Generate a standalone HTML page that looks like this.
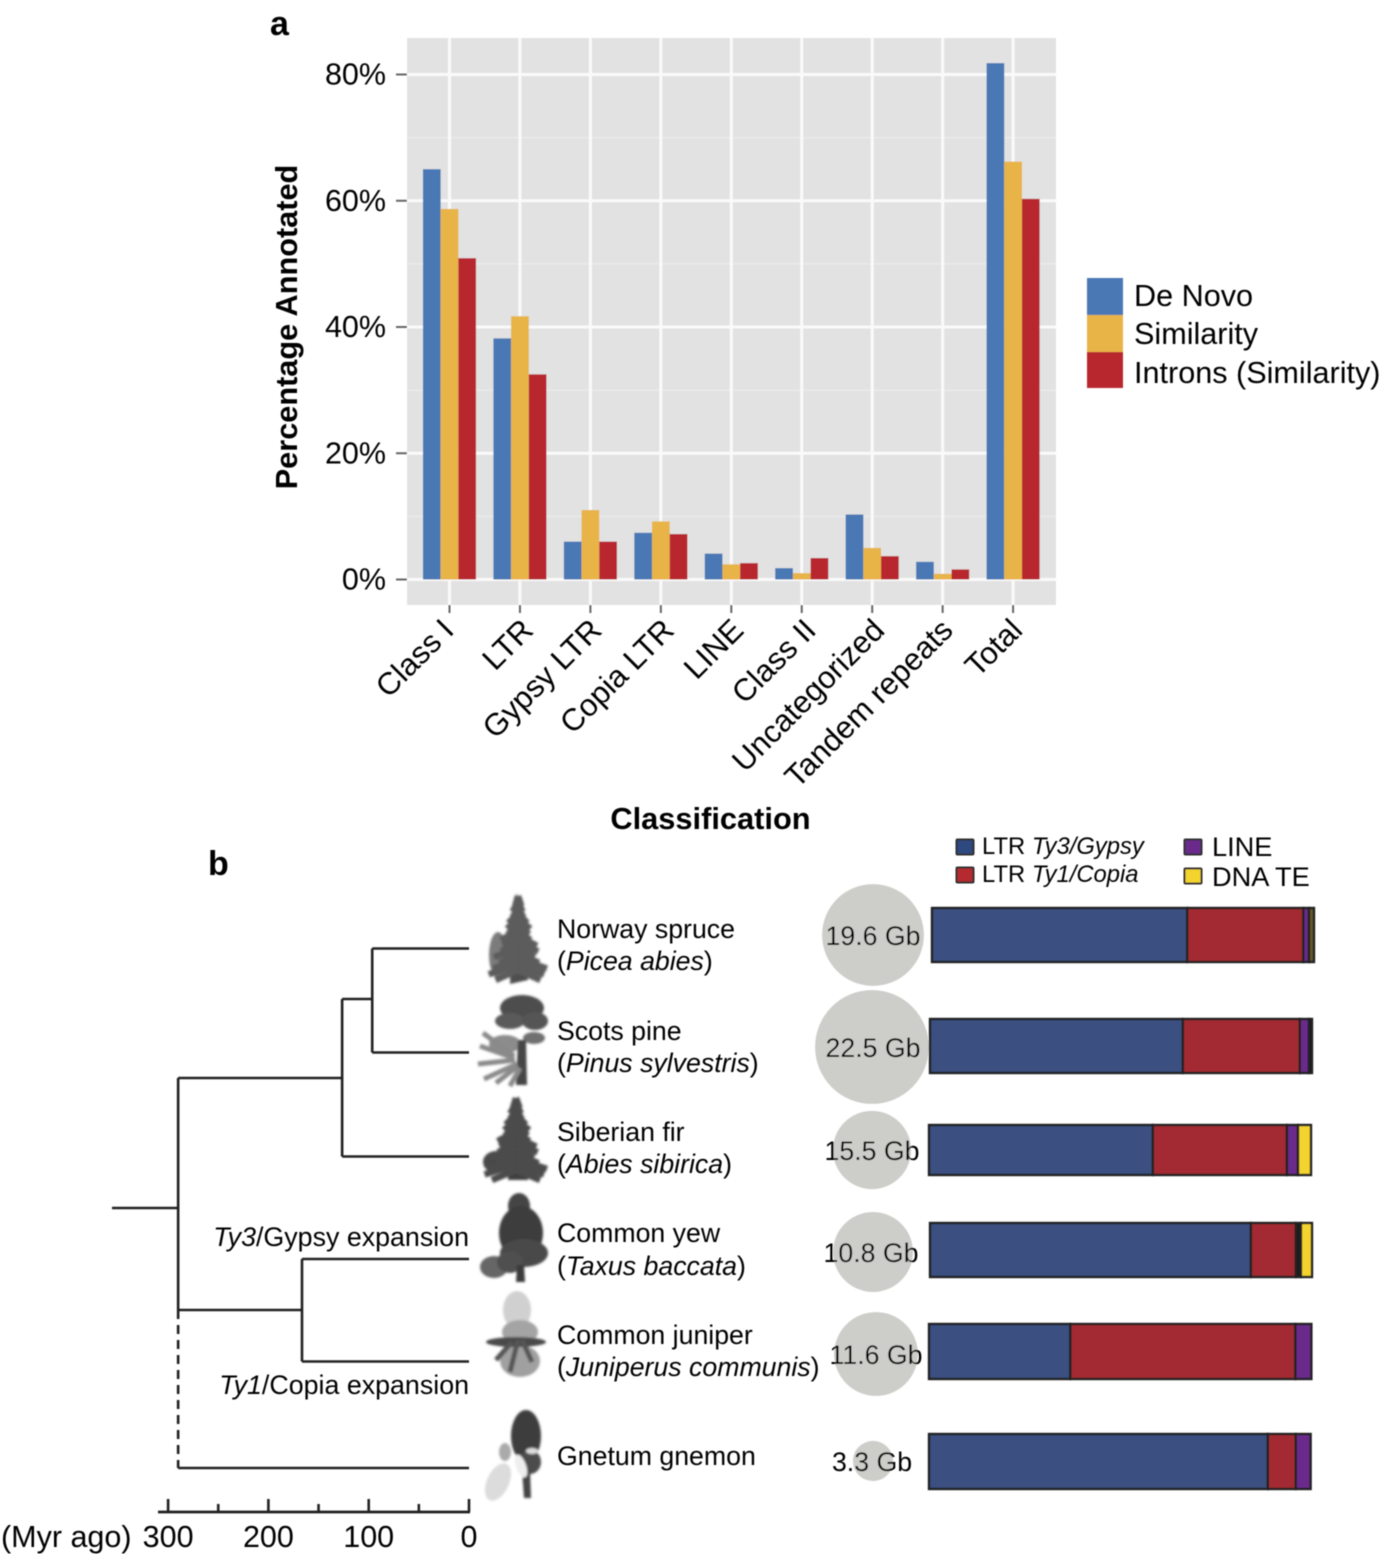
<!DOCTYPE html>
<html lang="en">
<head>
<meta charset="utf-8">
<title>Annotated repeats in conifer genomes</title>
<style>
html,body{margin:0;padding:0;background:#fff;width:1384px;height:1554px;overflow:hidden}
svg{display:block;font-family:"Liberation Sans",Arial,sans-serif;fill:#000}
</style>
</head>
<body>
<svg id="fig" width="1384" height="1554" viewBox="0 0 1384 1554" xmlns="http://www.w3.org/2000/svg">
<defs>
<filter id="soft" x="-5%" y="-5%" width="110%" height="110%"><feGaussianBlur stdDeviation="0.45"/></filter>
<filter id="treeblur" x="-20%" y="-20%" width="140%" height="140%"><feGaussianBlur stdDeviation="1.1"/></filter>
</defs>
<g id="root" filter="url(#soft)">
<text x="270" y="35" font-size="34" font-weight="bold">a</text>
<text x="208" y="875" font-size="34" font-weight="bold">b</text>

<rect x="407" y="38" width="649" height="567" fill="#e2e2e2"/>
<g id="gridA"></g>
<g id="barsA"></g>
<g id="axisA"></g>
<text transform="translate(297,327) rotate(-90)" text-anchor="middle" font-size="30.7" font-weight="bold">Percentage Annotated</text>
<text x="710.5" y="829" text-anchor="middle" font-size="30.8" font-weight="bold">Classification</text>

<g>
<rect x="1087" y="278" width="36" height="38" fill="#4a78b5"/>
<rect x="1087" y="315" width="36" height="38" fill="#e8b347"/>
<rect x="1087" y="352" width="36" height="36" fill="#b8272f"/>
<text x="1134" y="306" font-size="30.6">De Novo</text>
<text x="1134" y="344" font-size="30.6">Similarity</text>
<text x="1134" y="383" font-size="30.6">Introns (Similarity)</text>
</g>

<g id="phylo" fill="none" stroke="#222" stroke-width="2.6"></g>
<g id="timeAxis"></g>
<text x="1" y="1547" font-size="30.5">(Myr ago)</text>
<text x="469" y="1246" text-anchor="end" font-size="26.8"><tspan font-style="italic">Ty3</tspan>/Gypsy expansion</text>
<text x="469" y="1394" text-anchor="end" font-size="26.8"><tspan font-style="italic">Ty1</tspan>/Copia expansion</text>

<g>
<g id="tree1" filter="url(#treeblur)">
<ellipse cx="498" cy="955" rx="9" ry="23" fill="#7c7c7c"/>
<path d="M517,893 L524,930 L528,980 L510,984 L511,930 Z" fill="#505050"/>
</g>
<g filter="url(#treeblur)">
<ellipse cx="522" cy="1008" rx="22" ry="13" fill="#4e4e4e"/>
<ellipse cx="510" cy="1021" rx="15" ry="8" fill="#5a5a5a"/>
<ellipse cx="535" cy="1021" rx="13" ry="9" fill="#555"/>
<ellipse cx="534" cy="1038" rx="11" ry="6" fill="#707070"/>
<ellipse cx="505" cy="1044" rx="16" ry="9" fill="#8c8c8c"/>
<path d="M518,1040 L526,1040 L527,1085 L516,1085 Z" fill="#444"/>
<path d="M514,1056 L483,1033 M514,1058 L480,1046 M515,1060 L478,1064 M517,1064 L484,1079 M518,1066 L496,1083 M520,1068 L510,1086" stroke="#8a8a8a" stroke-width="5" fill="none"/>
</g>
<g id="tree3" filter="url(#treeblur)">
<ellipse cx="496" cy="1162" rx="13" ry="11" fill="#4a4a4a"/>
<path d="M518,1096 L527,1140 L528,1180 L508,1180 L510,1140 Z" fill="#404040"/>
</g>
<g filter="url(#treeblur)">
<ellipse cx="519" cy="1206" rx="11" ry="13" fill="#444"/>
<ellipse cx="521" cy="1233" rx="22" ry="27" fill="#3e3e3e"/>
<ellipse cx="524" cy="1253" rx="24" ry="14" fill="#484848"/>
<ellipse cx="494" cy="1267" rx="14" ry="11" fill="#666"/>
<ellipse cx="510" cy="1262" rx="13" ry="11" fill="#505050"/>
<path d="M517,1265 L524,1265 L525,1282 L516,1282 Z" fill="#3a3a3a"/>
</g>
<g filter="url(#treeblur)">
<ellipse cx="517" cy="1310" rx="14" ry="19" fill="#d0d0d0"/>
<ellipse cx="520" cy="1332" rx="18" ry="12" fill="#a4a4a4"/>
<ellipse cx="520" cy="1361" rx="20" ry="16" fill="#a0a0a0"/>
<ellipse cx="516" cy="1342" rx="30" ry="5" fill="#484848"/>
<path d="M518,1340 L510,1372 M512,1342 L496,1360 M522,1340 L532,1362" stroke="#555" stroke-width="5" fill="none"/>
</g>
<g filter="url(#treeblur)">
<ellipse cx="526" cy="1436" rx="15" ry="26" fill="#3e3e3e"/>
<ellipse cx="530" cy="1462" rx="11" ry="12" fill="#4c4c4c"/>
<path d="M522,1470 L530,1470 L531,1498 L524,1498 Z" fill="#444"/>
<ellipse cx="498" cy="1482" rx="11" ry="20" transform="rotate(25 498 1482)" fill="#dcdcdc"/>
<ellipse cx="505" cy="1452" rx="6" ry="9" fill="#aaa"/>
<ellipse cx="521" cy="1466" rx="5" ry="12" transform="rotate(-20 521 1466)" fill="#eee"/>
<ellipse cx="532" cy="1451" rx="6" ry="3" fill="#ddd"/>
</g>
</g>

<g font-size="26.7">
<text x="557" y="938">Norway spruce</text>
<text x="557" y="970">(<tspan font-style="italic">Picea abies</tspan>)</text>
<text x="557" y="1040">Scots pine</text>
<text x="557" y="1072">(<tspan font-style="italic">Pinus sylvestris</tspan>)</text>
<text x="557" y="1141">Siberian fir</text>
<text x="557" y="1173">(<tspan font-style="italic">Abies sibirica</tspan>)</text>
<text x="557" y="1242">Common yew</text>
<text x="557" y="1275">(<tspan font-style="italic">Taxus baccata</tspan>)</text>
<text x="557" y="1344">Common juniper</text>
<text x="557" y="1376">(<tspan font-style="italic">Juniperus communis</tspan>)</text>
<text x="557" y="1465">Gnetum gnemon</text>
</g>

<g id="genome"></g>
<g id="stacks"></g>

<g>
<rect x="956.5" y="839.5" width="17" height="15" rx="1" fill="#2f4a80" stroke="#333" stroke-width="2"/>
<rect x="956.5" y="867.5" width="17" height="15" rx="1" fill="#b5292e" stroke="#333" stroke-width="2"/>
<rect x="1184.5" y="839.5" width="17" height="15" rx="1" fill="#6a2a8c" stroke="#333" stroke-width="2"/>
<rect x="1184.5" y="868.5" width="17" height="15" rx="1" fill="#f3d32f" stroke="#333" stroke-width="2"/>
<text x="982" y="854" font-size="23.8">LTR <tspan font-style="italic">Ty3/Gypsy</tspan></text>
<text x="982" y="882" font-size="23.8">LTR <tspan font-style="italic">Ty1/Copia</tspan></text>
<text x="1212" y="856" font-size="27.2">LINE</text>
<text x="1212" y="886" font-size="27.2">DNA TE</text>
</g>
</g>
</svg>

<script>
// Panel a data
var categories = ["Class I","LTR","Gypsy LTR","Copia LTR","LINE","Class II","Uncategorized","Tandem repeats","Total"];
var deNovo = [65, 38.2, 6, 7.4, 4.1, 1.8, 10.3, 2.8, 81.8];
var similarity = [58.7, 41.7, 11, 9.2, 2.4, 1, 5, 0.9, 66.2];
var introns = [50.9, 32.5, 6, 7.2, 2.6, 3.4, 3.7, 1.6, 60.3];
var yTickValues = [0, 20, 40, 60, 80];
var yMinorValues = [10, 30, 50, 70];

// Panel b data
var speciesNames = ["Norway spruce","Scots pine","Siberian fir","Common yew","Common juniper","Gnetum gnemon"];
var genomeSizeLabels = ["19.6 Gb","22.5 Gb","15.5 Gb","10.8 Gb","11.6 Gb","3.3 Gb"];
var circleGb = [18, 22.5, 10.6, 11.1, 12.2, 2.8];
var gypsyShare = [66.8, 66.2, 58.6, 84, 37, 88.7];
var copiaShare = [30.4, 30.6, 35.1, 11.8, 58.9, 7.3];
var lineShare = [1.5, 2.4, 2.9, 1.3, 4.2, 3.9];
var dnaShare = [1.3, 0.8, 3.4, 2.9, 0, 0];
var timeTickValues = [300, 200, 100, 0];
var timeMinorValues = [250, 150, 50];
var splitAges = {root: 290, pinaceae: 126.5, spruceFir: 96.5, yewJuniper: 166.5};
var tipAge = 0;

var NS = "http://www.w3.org/2000/svg";
function mk(tag, attrs, parent, text) {
  var el = document.createElementNS(NS, tag);
  for (var k in attrs) el.setAttribute(k, attrs[k]);
  if (text !== undefined) el.textContent = text;
  parent.appendChild(el);
  return el;
}
function slug(s) { return s.toLowerCase().replace(/[^a-z0-9]+/g, "-"); }

// Panel a axes
var plotLeft = 407, plotRight = 1056, plotTop = 38, plotBottom = 605;
function yScale(v) { return 579.5 - v * 6.3125; }
function xScale(i) { return 449.5 + i * 70.45; }
var barW = 17.7;
var xLabelNudge = [-2, 7, 5, 7, 6, 8, 6, 4, 3];

var gridA = document.getElementById("gridA");
var barsA = document.getElementById("barsA");
var axisA = document.getElementById("axisA");

yMinorValues.forEach(function (v) {
  var l = mk("line", {x1: plotLeft, x2: plotRight, y1: yScale(v), y2: yScale(v), stroke: "#ececec", "stroke-width": 1.2}, gridA);
  
  
});
yTickValues.forEach(function (v) {
  var y = yScale(v);
  var g = mk("line", {x1: plotLeft, x2: plotRight, y1: y, y2: y, stroke: "#fafafa", "stroke-width": 3}, gridA);
  
  
  var t = mk("line", {x1: 396, x2: 407, y1: y, y2: y, stroke: "#666", "stroke-width": 2}, axisA);
  
  
  var lab = mk("text", {x: 386, y: y + 10, "text-anchor": "end", "font-size": 30.5}, axisA, v + "%");
  
  
});
categories.forEach(function (c, i) {
  var x = xScale(i);
  var g = mk("line", {x1: x, x2: x, y1: plotTop, y2: plotBottom, stroke: "#fafafa", "stroke-width": 3}, gridA);
  
  
  var t = mk("line", {x1: x, x2: x, y1: plotBottom, y2: plotBottom + 8, stroke: "#666", "stroke-width": 2}, axisA);
  
  
  var lab = mk("text", {transform: "translate(" + (x + 8 + xLabelNudge[i]) + ",632) rotate(-45)", "text-anchor": "end", "font-size": 31}, axisA, c);
  
  
});
function drawSeries(values, offset, color, name) {
  values.forEach(function (v, i) {
    var y = yScale(v);
    var r = mk("rect", {x: xScale(i) + offset * barW - barW / 2, y: y, width: barW, height: yScale(0) - y, fill: color}, barsA);
    
    
  });
}
drawSeries(deNovo, -1, "#4a78b5", "bar-de-novo");
drawSeries(similarity, 0, "#e8b347", "bar-similarity");
drawSeries(introns, 1, "#b8272f", "bar-introns");

// Conifer foliage drawn as drooping branch tiers (decoration only)
function tiers(groupId, cx, top, bottom, half, colour) {
  var g = document.getElementById(groupId);
  var n = 13;
  for (var k = 0; k <= n; k++) {
    var t = k / n;
    var y = top + t * (bottom - top);
    var wl = half * (0.1 + 0.9 * t) * (1 + 0.2 * Math.sin(k * 2.3));
    var wr = half * (0.1 + 0.9 * t) * (1 + 0.2 * Math.cos(k * 1.7));
    var p = mk("path", {d: "M" + cx + "," + (y - 6) + " L" + (cx - wl) + "," + (y + 4) + " M" + cx + "," + (y - 6) + " L" + (cx + wr) + "," + (y + 4), stroke: colour, "stroke-width": 6.5, fill: "none"}, g);
    
    
  }
}
tiers("tree1", 518, 902, 976, 28, "#5c5c5c");
tiers("tree3", 516, 1104, 1176, 30, "#4b4b4b");

// Panel b: time axis and phylogeny
function timeX(age) { return 469 - age * 1.003; }
var tipY = [948.5, 1052.5, 1156.5, 1259, 1361.5, 1468];
var phylo = document.getElementById("phylo");
function branch(x1, y1, x2, y2, dashed, name) {
  var a = {x1: x1, y1: y1, x2: x2, y2: y2};
  if (dashed) a["stroke-dasharray"] = "9 6";
  var l = mk("line", a, phylo);
  
  
}
var xRoot = timeX(splitAges.root), xPin = timeX(splitAges.pinaceae), xSpruce = timeX(splitAges.spruceFir), xYew = timeX(splitAges.yewJuniper), xTip = timeX(tipAge);
branch(112, 1208, xRoot, 1208, false, "root-branch");
branch(xRoot, 1078, xRoot, 1310, false, "root-split");
branch(xRoot, 1310, xRoot, tipY[5], true, "gnetum-dashed-split");
branch(xRoot, 1078, xPin, 1078, false, "pinaceae-stem");
branch(xPin, 999, xPin, tipY[2], false, "pinaceae-split");
branch(xPin, 999, xSpruce, 999, false, "spruce-pine-stem");
branch(xSpruce, tipY[0], xSpruce, tipY[1], false, "spruce-pine-split");
branch(xSpruce, tipY[0], xTip, tipY[0], false, "norway-spruce-branch");
branch(xSpruce, tipY[1], xTip, tipY[1], false, "scots-pine-branch");
branch(xPin, tipY[2], xTip, tipY[2], false, "siberian-fir-branch");
branch(xRoot, 1310, xYew, 1310, false, "yew-juniper-stem");
branch(xYew, tipY[3], xYew, tipY[4], false, "yew-juniper-split");
branch(xYew, tipY[3], xTip, tipY[3], false, "common-yew-branch");
branch(xYew, tipY[4], xTip, tipY[4], false, "common-juniper-branch");
branch(xRoot, tipY[5], xTip, tipY[5], false, "gnetum-branch");

var timeAxis = document.getElementById("timeAxis");
var timeBase = mk("line", {x1: 158, x2: 470, y1: 1512, y2: 1512, stroke: "#222", "stroke-width": 2.8}, timeAxis);


timeTickValues.forEach(function (v) {
  var x = timeX(v);
  var t = mk("line", {x1: x, x2: x, y1: 1499, y2: 1512, stroke: "#222", "stroke-width": 2.6}, timeAxis);
  
  
  var lab = mk("text", {x: x, y: 1547, "text-anchor": "middle", "font-size": 30.5}, timeAxis, String(v));
  
  
});
timeMinorValues.forEach(function (v) {
  var x = timeX(v);
  var t = mk("line", {x1: x, x2: x, y1: 1504, y2: 1512, stroke: "#222", "stroke-width": 2.6}, timeAxis);
  
  
});

// Panel b: genome circles
var circleCx = [873, 872, 872, 873, 876, 873];
var circleCy = [935, 1047, 1150, 1252, 1354, 1461];
var labelCx = [873, 873, 872, 871, 876, 872];
var genome = document.getElementById("genome");
function radius(gb) { return 12 * Math.sqrt(gb); }
circleGb.forEach(function (gb, i) {
  var c = mk("circle", {cx: circleCx[i], cy: circleCy[i], r: radius(gb), fill: "#cdcec9"}, genome);
  
  
  var t = mk("text", {x: labelCx[i], y: circleCy[i] + 10, "text-anchor": "middle", "font-size": 26.7}, genome, genomeSizeLabels[i]);
  
  
});

// Panel b: stacked composition bars
var stackLeft = [932, 930, 929, 930, 929, 929];
var stackTop = [908, 1019, 1125, 1223, 1324, 1434];
var stackHeight = [54, 54, 50, 54, 55, 55];
var stackWidth = 382;
var stacks = document.getElementById("stacks");
var colours = ["#3a4f80", "#a32c30", "#6a2a8c", "#f3d32f"];
var segNames = ["gypsy", "copia", "line", "dna-te"];
var shareSets = [gypsyShare, copiaShare, lineShare, dnaShare];
function shareX(i, cumulative) { return stackLeft[i] + cumulative * stackWidth / 100; }
speciesNames.forEach(function (name, i) {
  var cum = 0;
  shareSets.forEach(function (set, s) {
    var v = set[i];
    if (v <= 0) return;
    var colour = colours[s];
    if (s === 3 && i === 0) colour = "#6b5a28";
    if (s === 3 && i === 1) colour = "#1e1e2a";
    if (s === 2 && i === 3) colour = "#1e1e1e";
    var r = mk("rect", {x: shareX(i, cum), y: stackTop[i], width: v * stackWidth / 100, height: stackHeight[i], fill: colour, stroke: "#222", "stroke-width": 2.4}, stacks);
    
    
    cum += v;
  });
});
</script>
</body>
</html>
